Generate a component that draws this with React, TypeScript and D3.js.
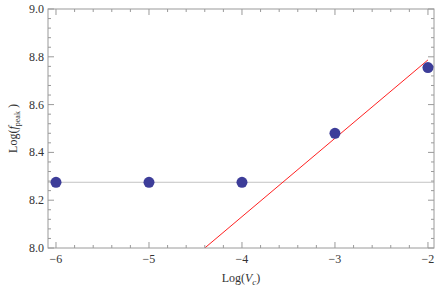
import React, { useEffect, useRef } from 'react';
import * as d3 from 'd3';

const logVc = [-6, -5, -4, -3, -2];
const logFpeak = [8.275, 8.275, 8.275, 8.48, 8.755];
const baseline = 8.275;
const fitX = [-4.4, -2];
const fitY = [8.0, 8.787];
const xTicks = [-6, -5, -4, -3, -2];
const yTicks = [8.0, 8.2, 8.4, 8.6, 8.8, 9.0];

const width = 436;
const height = 289;

export default function App() {
    const ref = useRef<SVGSVGElement>(null);

    useEffect(() => {
        const svg = d3.select(ref.current);
        svg.selectAll('*').remove();

        const margin = { top: 9, right: 2, bottom: 41, left: 48 };
        const x = d3.scaleLinear().domain([-6.086, -1.935]).range([margin.left, width - margin.right]);
        const y = d3.scaleLinear().domain([8, 9]).range([height - margin.bottom, margin.top]);
        const x0 = margin.left, x1 = width - margin.right;
        const y0 = height - margin.bottom, y1 = margin.top;
        const frame = '#9a9a9a';

        // baseline
        svg.append('line')
            .attr('x1', x0).attr('x2', x1)
            .attr('y1', y(baseline)).attr('y2', y(baseline))
            .attr('stroke', '#c4c4c4').attr('stroke-width', 1);

        // fit line
        svg.append('clipPath').attr('id', 'clip')
            .append('rect').attr('x', x0).attr('y', y1).attr('width', x1 - x0).attr('height', y0 - y1);
        svg.append('path')
            .attr('clip-path', 'url(#clip)')
            .attr('d', d3.line<number>().x(d => x(d)).y((d, i) => y(fitY[i]))(fitX))
            .attr('stroke', '#ff2020').attr('fill', 'none').attr('stroke-width', 1);

        // frame
        svg.append('rect')
            .attr('x', x0).attr('y', y1).attr('width', x1 - x0).attr('height', y0 - y1)
            .attr('fill', 'none').attr('stroke', frame).attr('stroke-width', 1);

        const ticks = svg.append('g').attr('stroke', frame).attr('stroke-width', 1);
        const xMinor = d3.range(-6.0, -1.9, 0.2);
        xMinor.forEach(v => {
            const major = xTicks.some(t => Math.abs(t - v) < 1e-6);
            const len = major ? 6 : 3;
            ticks.append('line').attr('x1', x(v)).attr('x2', x(v)).attr('y1', y0).attr('y2', y0 - len);
            ticks.append('line').attr('x1', x(v)).attr('x2', x(v)).attr('y1', y1).attr('y2', y1 + len);
        });
        const yMinor = d3.range(8.0, 9.001, 0.04);
        yMinor.forEach(v => {
            const major = yTicks.some(t => Math.abs(t - v) < 1e-6);
            const len = major ? 6 : 3;
            ticks.append('line').attr('y1', y(v)).attr('y2', y(v)).attr('x1', x0).attr('x2', x0 + len);
            ticks.append('line').attr('y1', y(v)).attr('y2', y(v)).attr('x1', x1).attr('x2', x1 - len);
        });

        const font = "'Liberation Serif', 'Times New Roman', serif";
        svg.append('g').selectAll('text').data(xTicks).join('text')
            .attr('x', d => x(d)).attr('y', y0 + 15)
            .attr('text-anchor', 'middle').style('font-family', font).attr('font-size', 12).attr('fill', '#333')
            .text(d => '\u2212' + Math.abs(d));
        svg.append('g').selectAll('text').data(yTicks).join('text')
            .attr('x', x0 - 4).attr('y', d => y(d) + 4)
            .attr('text-anchor', 'end').style('font-family', font).attr('font-size', 12).attr('fill', '#333')
            .text(d => d.toFixed(1));

        // points
        svg.append('g').selectAll('circle').data(logVc).join('circle')
            .attr('cx', d => x(d)).attr('cy', (d, i) => y(logFpeak[i]))
            .attr('r', 5.5).attr('fill', '#3d3d99');

        // axis labels
        const xl = svg.append('text')
            .attr('x', (x0 + x1) / 2).attr('y', 282)
            .attr('text-anchor', 'middle').style('font-family', font).attr('font-size', 12).attr('fill', '#333');
        xl.append('tspan').text('Log(');
        xl.append('tspan').attr('font-style', 'italic').text('V');
        xl.append('tspan').attr('font-style', 'italic').attr('font-size', 9).attr('dy', 3).text('c');
        xl.append('tspan').attr('dy', -3).text(')');

        const yl = svg.append('text')
            .attr('transform', `translate(17,${(y0 + y1) / 2}) rotate(-90)`)
            .attr('text-anchor', 'middle').style('font-family', font).attr('font-size', 12).attr('fill', '#333');
        yl.append('tspan').text('Log(');
        yl.append('tspan').attr('font-style', 'italic').text('f');
        yl.append('tspan').attr('font-size', 8).attr('dy', 3).text('peak');
        yl.append('tspan').attr('dy', -3).text(' )');
    }, []);

    return (
        <svg ref={ref} width={width} height={height}
            style={{ position: 'absolute', left: 0, top: 0, background: '#fff' }} />
    );
}
